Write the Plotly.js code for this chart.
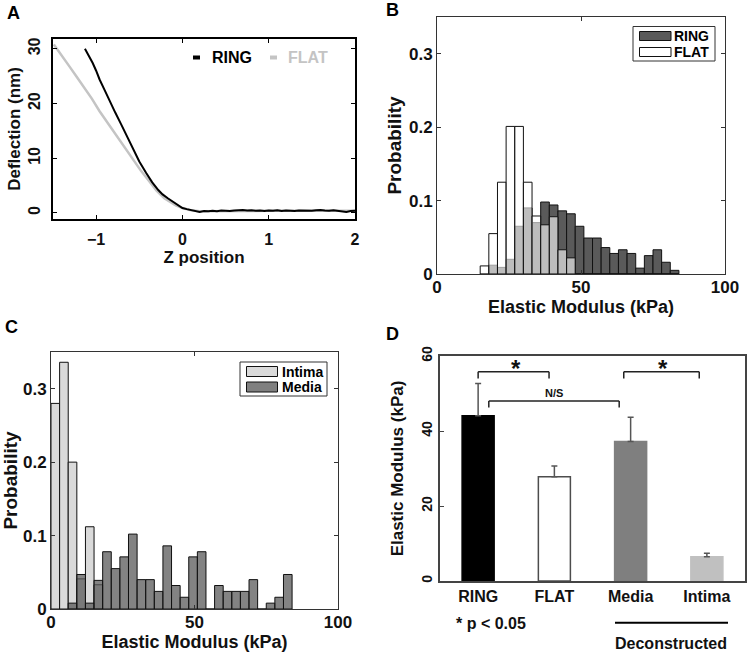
<!DOCTYPE html>
<html>
<head>
<meta charset="utf-8">
<script src="https://cdn.plot.ly/plotly-3.0.1.min.js"></script>
<style>html,body{margin:0;padding:0;background:#fff;}#chart{width:747px;height:652px;}</style>
</head>
<body>
<div id="chart"></div>
<script>
// ---------- Panel A: force curves ----------
const ringZ = [-1.13,-1.08,-1.04,-1.00,-0.96,-0.90,-0.845,-0.78,-0.71,-0.64,-0.575,-0.50,-0.42,-0.35,-0.28,-0.23,-0.17,-0.115,-0.06,0.00,0.05,0.10,
  0.15,0.20,0.25,0.30,0.35,0.40,0.45,0.50,0.55,0.60,0.65,0.70,0.75,0.80,0.85,0.90,0.95,1.00,1.05,1.10,1.15,1.20,1.25,1.30,1.35,1.40,1.45,1.50,1.55,1.60,1.65,1.70,1.75,1.80,1.85,1.90,1.95,2.00];
const ringDefl = [30.0,28.6,27.4,26.0,24.4,22.4,20.7,18.4,16.2,13.9,11.6,9.4,7.3,5.6,4.2,3.4,2.7,2.1,1.5,0.9,0.7,0.5,
  0.3,0.2,0.35,0.3,0.4,0.3,0.45,0.4,0.35,0.45,0.5,0.55,0.45,0.5,0.4,0.45,0.35,0.45,0.4,0.5,0.35,0.45,0.4,0.35,0.45,0.4,0.35,0.4,0.5,0.55,0.45,0.4,0.5,0.4,0.3,0.2,0.35,0.4];
const flatZ = [-1.49,-1.40,-1.31,-1.23,-1.15,-1.05,-0.96,-0.86,-0.77,-0.67,-0.575,-0.48,-0.385,-0.30,-0.21,-0.14,-0.077,0.00,0.10,0.20,0.40,0.60,0.80,1.00,1.20,1.40,1.60,1.80,2.00];
const flatDefl = [30.8,28.7,26.8,25.0,23.2,20.9,18.6,16.3,14.3,12.0,9.75,7.7,5.8,4.1,2.7,2.0,1.4,0.9,0.5,0.3,0.35,0.4,0.4,0.4,0.4,0.4,0.45,0.4,0.4];

// ---------- Panel B: RING vs FLAT histograms (bin width 3 kPa) ----------
const binB = [16.5,19.5,22.5,25.5,28.5,31.5,34.5,37.5,40.5,43.5,46.5,49.5,52.5,55.5,58.5,61.5,64.5,67.5,70.5,73.5,76.5,79.5,82.5];
const ringProb = [0,0.012,0.009,0.020,0.065,0.090,0.070,0.098,0.094,0.086,0.082,0.065,0.049,0.049,0.036,0.028,0.033,0.028,0.008,0.025,0.033,0.016,0.005];
const flatProb = [0.011,0.055,0.125,0.201,0.201,0.125,0.079,0.067,0.078,0.033,0.022,0,0,0,0,0,0,0,0,0,0,0,0];

// ---------- Panel C: Intima vs Media histograms ----------
const binIntima = [1.5,4.5,7.5,10.5,13.5,16.5];
const intimaProb = [0.280,0.336,0.200,0.041,0.112,0.033];
const binMedia = [7.5,10.5,13.5,16.5,19.5,22.5,25.5,28.5,31.5,34.5,37.5,40.5,43.5,46.5,49.5,52.5,55.5,58.5,61.5,64.5,67.5,70.5,73.5,76.5,79.5,82.5];
const mediaProb = [0.008,0.047,0.008,0.039,0.078,0.055,0.071,0.102,0.040,0.040,0.024,0.086,0.032,0.016,0.071,0.078,0,0.032,0.024,0.024,0.024,0.040,0,0.008,0.016,0.047];

// ---------- Panel D: mean elastic modulus ----------
const groups = ['RING','FLAT','Media','Intima'];
const modulus = [44.1,27.8,37.2,6.5];
const modulusErr = [8.6,2.9,6.5,0.9];
const zeros = [0,0,0,0];

const FONT = 'Liberation Sans, Arial, sans-serif';
const W = 747, H = 652;
const px = x => x / W;
const py = y => 1 - y / H;
const bf = (size, color) => ({family: FONT, size: size, color: color || '#111', weight: 'bold'});

const traces = [
  {x: flatZ, y: flatDefl, type: 'scatter', mode: 'lines', name: 'FLAT', xaxis: 'x', yaxis: 'y',
   line: {color: '#c4c4c4', width: 2.5}, showlegend: false},
  {x: ringZ, y: ringDefl, type: 'scatter', mode: 'lines', name: 'RING', xaxis: 'x', yaxis: 'y',
   line: {color: '#000', width: 2}, showlegend: false},

  {x: binB, y: ringProb, type: 'bar', name: 'RING', xaxis: 'x2', yaxis: 'y2', width: 3,
   marker: {color: '#5a5a5a', line: {color: '#111', width: 1}}, showlegend: false},
  {x: binB, y: flatProb, type: 'bar', name: 'FLAT', xaxis: 'x2', yaxis: 'y2', width: 3,
   marker: {color: 'rgba(255,255,255,0.6)', line: {color: '#111', width: 1}}, showlegend: false},

  {x: binIntima, y: intimaProb, type: 'bar', name: 'Intima', xaxis: 'x3', yaxis: 'y3', width: 3,
   marker: {color: '#dadada', line: {color: '#111', width: 1}}, showlegend: false},
  {x: binMedia, y: mediaProb, type: 'bar', name: 'Media', xaxis: 'x3', yaxis: 'y3', width: 3,
   marker: {color: 'rgba(90,90,90,0.75)', line: {color: '#111', width: 1}}, showlegend: false},

  {x: groups, y: modulus, type: 'bar', name: 'Modulus', xaxis: 'x4', yaxis: 'y4', width: 0.42,
   marker: {color: ['#000000','#ffffff','#7f7f7f','#c0c0c0'],
            line: {color: ['#000000','#4d4d4d','#7f7f7f','#c0c0c0'], width: 1.5}},
   error_y: {type: 'data', symmetric: false, array: modulusErr, arrayminus: zeros,
             color: '#555', thickness: 1.5, width: 3},
   showlegend: false}
];

function axBase(extra) {
  return Object.assign({showgrid: false, zeroline: false, showline: true, mirror: 'ticks',
    ticks: 'inside', ticklen: 4, fixedrange: true}, extra);
}

function note(text, x, y, size, color, xanchor) {
  return {text: text, xref: 'paper', yref: 'paper', x: px(x), y: py(y), showarrow: false,
    xanchor: xanchor || 'center', yanchor: 'middle', font: bf(size, color)};
}

const layout = {
  width: W, height: H,
  margin: {l: 0, r: 0, t: 0, b: 0},
  paper_bgcolor: '#fff', plot_bgcolor: '#fff',
  barmode: 'overlay', bargap: 0,
  showlegend: false,
  font: {family: FONT},
  // A
  xaxis: axBase({domain: [px(53), px(355)], anchor: 'y', range: [-1.5, 2], tickvals: [-1,0,1,2],
    linecolor: '#000', linewidth: 2, tickcolor: '#000', tickfont: bf(16), ticklabelstandoff: 5,
    title: {text: 'Z position', font: bf(17), standoff: 2}}),
  yaxis: axBase({domain: [py(219), py(39)], anchor: 'x', range: [-1.1, 31.8], tickvals: [0,10,20,30],
    tickangle: -90, linecolor: '#000', linewidth: 2, tickcolor: '#000', tickfont: bf(16), ticklabelstandoff: 5,
    title: {text: 'Deflection (nm)', font: bf(17), standoff: 1}}),
  // B
  xaxis2: axBase({domain: [px(437), px(725)], anchor: 'y2', range: [0, 100], tickvals: [0,50,100],
    linecolor: '#333', linewidth: 1, tickcolor: '#333', tickfont: bf(17), ticklabelstandoff: -2,
    title: {text: 'Elastic Modulus (kPa)', font: bf(18), standoff: 2}}),
  yaxis2: axBase({domain: [py(274), py(17)], anchor: 'x2', range: [0, 0.35], tickvals: [0,0.1,0.2,0.3],
    ticktext: ['0','0.1','0.2','0.3'],
    linecolor: '#333', linewidth: 1, tickcolor: '#333', tickfont: bf(17),
    title: {text: 'Probability', font: bf(19), standoff: 2}}),
  // C
  xaxis3: axBase({domain: [px(51), px(338)], anchor: 'y3', range: [0, 100], tickvals: [0,50,100],
    linecolor: '#333', linewidth: 1, tickcolor: '#333', tickfont: bf(17), ticklabelstandoff: -2,
    title: {text: 'Elastic Modulus (kPa)', font: bf(18), standoff: 3}}),
  yaxis3: axBase({domain: [py(609), py(352)], anchor: 'x3', range: [0, 0.35], tickvals: [0,0.1,0.2,0.3],
    ticktext: ['0','0.1','0.2','0.3'],
    linecolor: '#333', linewidth: 1, tickcolor: '#333', tickfont: bf(17),
    title: {text: 'Probability', font: bf(19), standoff: 2}}),
  // D
  xaxis4: {domain: [px(440), px(745)], anchor: 'y4', type: 'category', range: [-0.5, 3.5],
    showgrid: false, zeroline: false, showline: true, mirror: true, ticks: '',
    linecolor: '#444', linewidth: 2, tickfont: bf(16), fixedrange: true},
  yaxis4: {domain: [py(581), py(356)], anchor: 'x4', range: [0, 60], tickvals: [0,20,40,60],
    tickangle: -90, showgrid: false, zeroline: false, showline: true, mirror: true,
    ticks: 'inside', ticklen: 4, tickcolor: '#444',
    linecolor: '#444', linewidth: 2, tickfont: bf(14), fixedrange: true,
    title: {text: 'Elastic Modulus (kPa)', font: bf(17), standoff: 11}},
  shapes: [
    // A legend swatches
    {type: 'rect', xref: 'paper', yref: 'paper', x0: px(193), x1: px(200), y0: py(59.5), y1: py(55.5),
     fillcolor: '#000', line: {width: 0}},
    {type: 'rect', xref: 'paper', yref: 'paper', x0: px(270), x1: px(277), y0: py(59.5), y1: py(55.5),
     fillcolor: '#c4c4c4', line: {width: 0}},
    // B legend
    {type: 'rect', xref: 'paper', yref: 'paper', x0: px(633), x1: px(715), y0: py(61), y1: py(26.5),
     fillcolor: '#fff', line: {color: '#333', width: 1}},
    {type: 'rect', xref: 'paper', yref: 'paper', x0: px(639.5), x1: px(671), y0: py(40.5), y1: py(31.5),
     fillcolor: '#5a5a5a', line: {color: '#111', width: 1}},
    {type: 'rect', xref: 'paper', yref: 'paper', x0: px(639.5), x1: px(671), y0: py(56.5), y1: py(47.5),
     fillcolor: '#fff', line: {color: '#111', width: 1}},
    // C legend
    {type: 'rect', xref: 'paper', yref: 'paper', x0: px(240), x1: px(327), y0: py(396), y1: py(362),
     fillcolor: '#fff', line: {color: '#333', width: 1}},
    {type: 'rect', xref: 'paper', yref: 'paper', x0: px(246.5), x1: px(277.5), y0: py(376.5), y1: py(366.5),
     fillcolor: '#dadada', line: {color: '#111', width: 1}},
    {type: 'rect', xref: 'paper', yref: 'paper', x0: px(246.5), x1: px(277.5), y0: py(392), y1: py(382),
     fillcolor: '#808080', line: {color: '#111', width: 1}},
    // D significance brackets
    {type: 'line', xref: 'x4', yref: 'y4', x0: 0, x1: 0.93, y0: 55.8, y1: 55.8, line: {color: '#222', width: 1.5}},
    {type: 'line', xref: 'x4', yref: 'y4', x0: 0, x1: 0, y0: 54.0, y1: 55.8, line: {color: '#222', width: 1.5}},
    {type: 'line', xref: 'x4', yref: 'y4', x0: 0.93, x1: 0.93, y0: 54.0, y1: 55.8, line: {color: '#222', width: 1.5}},
    {type: 'line', xref: 'x4', yref: 'y4', x0: 1.91, x1: 2.9, y0: 55.8, y1: 55.8, line: {color: '#222', width: 1.5}},
    {type: 'line', xref: 'x4', yref: 'y4', x0: 1.91, x1: 1.91, y0: 54.0, y1: 55.8, line: {color: '#222', width: 1.5}},
    {type: 'line', xref: 'x4', yref: 'y4', x0: 2.9, x1: 2.9, y0: 54.0, y1: 55.8, line: {color: '#222', width: 1.5}},
    {type: 'line', xref: 'x4', yref: 'y4', x0: 0.14, x1: 1.85, y0: 48.0, y1: 48.0, line: {color: '#222', width: 1.5}},
    {type: 'line', xref: 'x4', yref: 'y4', x0: 0.14, x1: 0.14, y0: 46.3, y1: 48.0, line: {color: '#222', width: 1.5}},
    {type: 'line', xref: 'x4', yref: 'y4', x0: 1.85, x1: 1.85, y0: 46.3, y1: 48.0, line: {color: '#222', width: 1.5}},
    // D "Deconstructed" underline
    {type: 'line', xref: 'paper', yref: 'paper', x0: px(615), x1: px(728), y0: py(622.7), y1: py(622.7),
     line: {color: '#000', width: 2}}
  ],
  annotations: [
    note('A', 13, 13, 18, '#000'),
    note('B', 392, 10, 18, '#000'),
    note('C', 12, 327, 18, '#000'),
    note('D', 392, 334, 18, '#000'),
    // A legend
    note('RING', 210, 57.5, 16, '#000', 'left'),
    note('FLAT', 286, 57.5, 16, '#c4c4c4', 'left'),
    // B legend
    note('RING', 672, 36, 14, '#000', 'left'),
    note('FLAT', 672, 52, 14, '#000', 'left'),
    // C legend
    note('Intima', 280, 371.5, 14, '#000', 'left'),
    note('Media', 280, 387, 14, '#000', 'left'),
    // D significance marks
    {text: '*', xref: 'x4', yref: 'y4', x: 0.5, y: 56.6, showarrow: false, yanchor: 'middle', font: bf(24, '#111')},
    {text: '*', xref: 'x4', yref: 'y4', x: 2.43, y: 56.6, showarrow: false, yanchor: 'middle', font: bf(24, '#111')},
    {text: 'N/S', xref: 'x4', yref: 'y4', x: 0.99, y: 50.2, showarrow: false, yanchor: 'middle', font: bf(11, '#111')},
    // D footnotes
    note('* p < 0.05', 491, 623, 16, '#111'),
    note('Deconstructed', 671, 643, 16, '#111')
  ]
};

Plotly.newPlot('chart', traces, layout, {displayModeBar: false, staticPlot: true});
</script>
</body>
</html>
